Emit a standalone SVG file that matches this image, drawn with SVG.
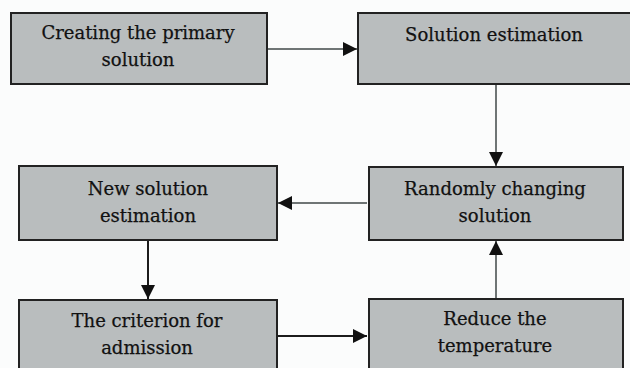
<svg xmlns="http://www.w3.org/2000/svg" width="630" height="368" viewBox="0 0 630 368">
<style>
.box{fill:#b9bdbe;stroke:#222;stroke-width:2}
.t{font-family:"DejaVu Serif","Liberation Serif",serif;font-size:18px;fill:#111;text-anchor:middle;stroke:#111;stroke-width:0.25}
.c{fill:none;stroke:#6f7575;stroke-width:2}
.k{fill:none;stroke:#1c1c1c;stroke-width:2}
</style>
<defs>
<marker id="ah" markerUnits="userSpaceOnUse" markerWidth="16" markerHeight="16" refX="14" refY="7" orient="auto">
<path d="M0,0 L14,7 L0,14 z" fill="#111"/>
</marker>
</defs>
<rect width="630" height="368" fill="#fbfcfc"/>
<g id="connectors">
<line class="c" x1="268" y1="49" x2="357" y2="49" marker-end="url(#ah)"/>
<line class="c" x1="496" y1="84" x2="496" y2="166" marker-end="url(#ah)"/>
<line class="c" x1="367" y1="203" x2="278" y2="203" marker-end="url(#ah)"/>
<line class="k" x1="148" y1="241" x2="148" y2="299" marker-end="url(#ah)"/>
<line class="k" x1="278" y1="336" x2="367" y2="336" marker-end="url(#ah)"/>
<line class="c" x1="496" y1="298" x2="496" y2="241" marker-end="url(#ah)"/>
</g>
<g id="n1">
<rect class="box" x="11" y="13" width="256" height="71"/>
<text class="t" x="138" y="39">Creating the primary</text>
<text class="t" x="138" y="66">solution</text>
</g>
<g id="n2">
<rect class="box" x="358" y="13" width="285" height="71"/>
<text class="t" x="494" y="41">Solution estimation</text>
</g>
<g id="n3">
<rect class="box" x="19" y="166" width="258" height="74"/>
<text class="t" x="148" y="195">New solution</text>
<text class="t" x="148" y="222">estimation</text>
</g>
<g id="n4">
<rect class="box" x="369" y="167" width="254" height="73"/>
<text class="t" x="495" y="195">Randomly changing</text>
<text class="t" x="495" y="222">solution</text>
</g>
<g id="n5">
<rect class="box" x="19" y="300" width="258" height="80"/>
<text class="t" x="147" y="327">The criterion for</text>
<text class="t" x="147" y="354">admission</text>
</g>
<g id="n6">
<rect class="box" x="369" y="299" width="254" height="80"/>
<text class="t" x="495" y="325">Reduce the</text>
<text class="t" x="495" y="352">temperature</text>
</g>
</svg>
